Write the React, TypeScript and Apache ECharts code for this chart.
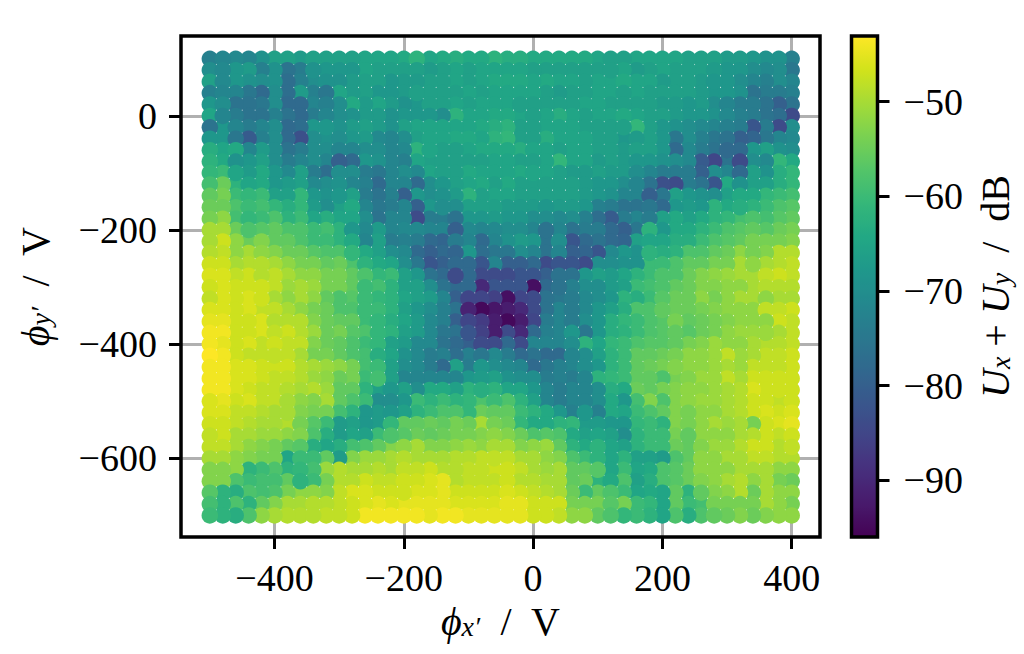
import React, { useEffect, useRef } from "react";
import * as echarts from "echarts";

const xValues = [-500,-480,-460,-440,-420,-400,-380,-360,-340,-320,-300,-280,-260,-240,-220,-200,-180,-160,-140,-120,-100,-80,-60,-40,-20,0,20,40,60,80,100,120,140,160,180,200,220,240,260,280,300,320,340,360,380,400];
const yValues = [100,80,60,40,20,0,-20,-40,-60,-80,-100,-120,-140,-160,-180,-200,-220,-240,-260,-280,-300,-320,-340,-360,-380,-400,-420,-440,-460,-480,-500,-520,-540,-560,-580,-600,-620,-640,-660,-680,-700];
const xTicks = [-400, -200, 0, 200, 400];
const yTicks = [-600, -400, -200, 0];
const barTicks = [-90, -80, -70, -60, -50];
const viridis = ["#440154","#481a6c","#472f7d","#414487","#39568c","#31688e","#2a788e","#23888e","#1f988b","#22a884","#35b779","#54c568","#7ad151","#a5db36","#d2e21b","#fde725"];

const levels: number[][] = [
[-73,-72,-71,-72,-69,-66,-66,-67,-66,-66,-66,-66,-65,-65,-65,-64,-62,-65,-64,-63,-64,-64,-62, -63,-63,-64,-64,-64,-64,-64,-65,-66,-66,-65,-65,-65,-65,-66,-66,-66,-67,-67,-68,-69,-69,-73],
[-70,-71,-68,-67,-73,-69,-76,-74,-69,-68,-68,-68,-65,-66,-66,-66,-66,-67,-66,-65,-66,-65,-65, -65,-65,-66,-66,-66,-66,-66,-66,-66,-65,-67,-66,-65,-66,-66,-66,-67,-68,-68,-70,-71,-70,-75],
[-66,-71,-68,-69,-70,-69,-77,-73,-70,-69,-69,-67,-66,-66,-68,-67,-67,-66,-66,-65,-66,-65,-64, -64,-64,-65,-64,-65,-65,-66,-65,-65,-64,-65,-65,-67,-66,-66,-67,-68,-68,-70,-72,-73,-70,-72],
[-73,-72,-72,-75,-78,-70,-77,-67,-73,-75,-65,-67,-66,-68,-68,-67,-66,-66,-66,-66,-65,-66,-65, -65,-65,-65,-66,-67,-66,-66,-65,-65,-66,-65,-66,-66,-66,-66,-67,-68,-68,-69,-76,-74,-74,-73],
[-68,-70,-76,-76,-75,-70,-78,-78,-72,-73,-70,-64,-67,-65,-67,-69,-68,-66,-66,-65,-66,-65,-65, -65,-66,-66,-66,-66,-66,-65,-65,-66,-66,-66,-66,-67,-67,-68,-67,-70,-72,-74,-74,-76,-80,-76],
[-65,-72,-74,-76,-76,-73,-76,-78,-74,-72,-70,-69,-67,-67,-69,-68,-68,-68,-70,-62,-65,-65,-64, -64,-65,-66,-65,-63,-65,-66,-65,-65,-64,-65,-66,-66,-67,-68,-68,-69,-71,-73,-74,-76,-77,-84],
[-76,-68,-72,-74,-72,-70,-78,-77,-68,-68,-69,-67,-66,-67,-69,-66,-65,-65,-65,-65,-65,-64,-63, -62,-66,-66,-65,-65,-65,-66,-66,-66,-66,-61,-66,-68,-69,-70,-71,-72,-73,-74,-82,-74,-84,-70],
[-68,-68,-75,-81,-73,-70,-78,-83,-70,-69,-70,-68,-67,-71,-72,-70,-66,-65,-65,-64,-64,-65,-62, -61,-66,-66,-63,-65,-65,-65,-66,-66,-68,-67,-66,-68,-75,-70,-73,-75,-76,-80,-79,-75,-72,-71],
[-63,-65,-64,-72,-67,-70,-76,-74,-70,-70,-72,-72,-70,-70,-72,-71,-62,-65,-66,-66,-65,-64,-64, -64,-63,-65,-65,-66,-65,-65,-66,-66,-67,-66,-66,-68,-78,-71,-74,-76,-78,-78,-68,-66,-69,-70],
[-62,-64,-69,-68,-66,-70,-74,-72,-70,-72,-80,-78,-68,-69,-72,-73,-65,-66,-66,-66,-66,-66,-65, -65,-66,-66,-65,-61,-65,-65,-67,-66,-67,-68,-68,-69,-70,-71,-81,-85,-76,-84,-70,-71,-61,-64],
[-61,-60,-65,-67,-64,-68,-71,-66,-74,-77,-70,-70,-74,-75,-72,-70,-71,-65,-66,-66,-64,-65,-65, -65,-64,-65,-65,-66,-67,-67,-66,-67,-67,-70,-72,-74,-74,-74,-80,-70,-72,-78,-66,-69,-63,-61],
[-59,-55,-62,-65,-64,-68,-67,-66,-71,-70,-69,-72,-73,-78,-72,-72,-78,-70,-68,-66,-65,-64,-66, -64,-66,-66,-66,-66,-66,-67,-68,-68,-70,-72,-76,-83,-84,-74,-76,-82,-64,-69,-66,-66,-63,-61],
[-56,-54,-60,-61,-60,-66,-66,-61,-68,-69,-68,-66,-74,-76,-73,-80,-68,-70,-69,-67,-62,-66,-65, -65,-66,-66,-66,-66,-66,-67,-68,-69,-72,-72,-80,-75,-66,-68,-69,-70,-66,-64,-64,-61,-60,-59],
[-55,-55,-58,-60,-59,-61,-63,-61,-67,-70,-66,-64,-72,-75,-74,-72,-80,-68,-70,-70,-66,-66,-66, -67,-67,-67,-68,-67,-67,-68,-73,-74,-76,-76,-75,-78,-68,-67,-68,-62,-64,-63,-62,-60,-58,-57],
[-54,-52,-59,-61,-60,-58,-62,-60,-65,-63,-65,-65,-70,-76,-72,-72,-84,-74,-74,-76,-68,-68,-67, -68,-68,-70,-70,-71,-70,-73,-77,-81,-74,-72,-74,-66,-64,-66,-64,-62,-61,-59,-58,-59,-57,-56],
[-50,-50,-55,-58,-57,-56,-58,-58,-60,-59,-62,-68,-71,-67,-72,-71,-71,-72,-72,-80,-71,-72,-71, -70,-70,-72,-76,-72,-76,-74,-74,-78,-80,-75,-62,-68,-64,-64,-62,-60,-58,-57,-56,-57,-55,-54],
[-50,-47,-52,-55,-53,-56,-56,-58,-60,-60,-62,-64,-72,-66,-74,-73,-74,-78,-79,-74,-72,-78,-72, -69,-67,-68,-76,-70,-82,-78,-76,-78,-79,-66,-65,-65,-63,-63,-60,-58,-57,-56,-54,-54,-54,-53],
[-49,-48,-52,-50,-52,-53,-55,-55,-57,-58,-58,-61,-64,-66,-70,-71,-78,-80,-78,-79,-68,-77,-75, -75,-70,-72,-76,-72,-80,-79,-82,-71,-68,-69,-62,-63,-62,-58,-58,-56,-55,-52,-54,-53,-49,-49],
[-47,-47,-50,-49,-49,-50,-52,-54,-54,-56,-55,-58,-62,-64,-65,-70,-75,-82,-80,-78,-78,-82,-72, -80,-80,-78,-84,-82,-82,-84,-70,-70,-69,-69,-60,-60,-58,-56,-56,-54,-54,-50,-52,-50,-49,-48],
[-46,-46,-48,-47,-49,-48,-50,-52,-52,-54,-54,-56,-58,-61,-60,-66,-68,-76,-78,-84,-78,-84,-84, -84,-82,-82,-80,-76,-76,-68,-66,-67,-65,-62,-60,-58,-58,-55,-53,-52,-51,-50,-50,-48,-47,-48],
[-47,-46,-47,-47,-47,-48,-51,-50,-51,-54,-54,-56,-60,-59,-62,-66,-66,-70,-76,-78,-78,-90,-82, -82,-82,-94,-78,-76,-73,-70,-70,-67,-66,-60,-59,-58,-56,-55,-53,-53,-52,-52,-50,-49,-49,-49],
[-48,-46,-47,-46,-47,-50,-52,-50,-52,-56,-58,-57,-60,-61,-62,-65,-66,-67,-72,-80,-85,-85,-86, -94,-85,-84,-76,-75,-74,-71,-70,-68,-62,-63,-60,-57,-55,-55,-52,-54,-52,-50,-50,-52,-50,-50],
[-46,-46,-47,-46,-48,-48,-50,-52,-54,-55,-58,-58,-60,-60,-62,-66,-68,-70,-73,-76,-91,-95,-93, -92,-90,-84,-76,-72,-74,-71,-68,-66,-63,-58,-58,-56,-55,-55,-54,-53,-52,-52,-52,-48,-48,-47],
[-45,-45,-47,-47,-46,-49,-49,-49,-53,-55,-56,-56,-60,-61,-63,-65,-67,-71,-73,-80,-85,-87,-92, -95,-92,-85,-74,-72,-74,-70,-68,-63,-61,-60,-58,-57,-54,-56,-55,-54,-53,-52,-52,-52,-47,-48],
[-44,-44,-47,-47,-46,-48,-47,-49,-51,-55,-54,-57,-58,-61,-62,-66,-67,-71,-75,-76,-82,-86,-92, -84,-90,-78,-73,-72,-68,-75,-68,-63,-62,-60,-58,-57,-56,-57,-55,-54,-52,-51,-51,-51,-50,-48],
[-44,-45,-47,-46,-48,-47,-48,-48,-53,-55,-56,-58,-60,-61,-66,-67,-71,-71,-76,-78,-80,-84,-84, -78,-84,-72,-72,-72,-70,-62,-65,-61,-60,-58,-57,-57,-56,-54,-53,-51,-52,-52,-50,-49,-49,-48],
[-43,-44,-47,-48,-48,-48,-48,-50,-54,-54,-56,-58,-59,-63,-65,-69,-71,-74,-73,-77,-73,-75,-71, -74,-78,-76,-78,-78,-72,-70,-66,-62,-60,-56,-56,-55,-54,-52,-52,-51,-48,-51,-50,-48,-48,-47],
[-44,-44,-46,-46,-47,-47,-47,-49,-50,-51,-52,-54,-59,-60,-66,-70,-71,-74,-78,-66,-74,-68,-70, -71,-72,-78,-75,-73,-72,-70,-68,-62,-60,-56,-55,-54,-53,-52,-52,-51,-50,-51,-48,-48,-48,-47],
[-44,-44,-46,-46,-47,-48,-48,-49,-51,-52,-55,-54,-60,-59,-66,-72,-72,-72,-72,-72,-68,-67,-66, -69,-70,-70,-74,-73,-74,-72,-62,-61,-60,-56,-56,-58,-54,-53,-51,-51,-48,-50,-47,-47,-47,-47],
[-44,-44,-46,-47,-48,-48,-49,-50,-49,-51,-56,-56,-62,-66,-68,-66,-70,-64,-64,-66,-62,-63,-62, -65,-65,-68,-72,-74,-72,-72,-70,-63,-64,-55,-56,-54,-53,-52,-52,-51,-50,-49,-46,-47,-47,-47],
[-46,-45,-47,-46,-48,-48,-50,-52,-53,-50,-56,-58,-60,-70,-70,-68,-60,-62,-60,-62,-61,-58,-60, -58,-62,-66,-72,-74,-72,-72,-70,-64,-68,-59,-53,-58,-53,-52,-51,-51,-50,-49,-47,-47,-48,-47],
[-46,-46,-48,-48,-49,-50,-50,-53,-54,-54,-59,-62,-68,-67,-68,-66,-62,-60,-58,-58,-61,-55,-56, -56,-60,-62,-64,-68,-73,-68,-73,-64,-65,-60,-58,-56,-53,-54,-52,-52,-50,-49,-47,-46,-47,-46],
[-47,-47,-48,-49,-50,-50,-49,-54,-57,-60,-67,-66,-68,-67,-61,-56,-56,-55,-56,-54,-55,-50,-54, -55,-61,-64,-64,-62,-61,-67,-67,-68,-68,-61,-60,-62,-53,-54,-52,-50,-51,-50,-54,-47,-46,-45],
[-48,-47,-50,-50,-51,-51,-52,-53,-58,-63,-67,-65,-66,-60,-58,-57,-55,-56,-55,-54,-54,-53,-52, -53,-55,-58,-57,-58,-64,-66,-65,-66,-70,-62,-60,-60,-54,-56,-52,-52,-52,-50,-49,-47,-48,-47],
[-48,-48,-50,-52,-53,-54,-56,-57,-63,-65,-63,-59,-58,-56,-53,-52,-50,-53,-53,-52,-51,-52,-50, -50,-53,-52,-51,-56,-62,-64,-62,-65,-66,-62,-60,-60,-55,-56,-53,-51,-51,-49,-47,-47,-49,-48],
[-50,-50,-52,-53,-54,-54,-65,-60,-60,-56,-67,-53,-51,-51,-50,-49,-50,-50,-50,-49,-49,-48,-48, -48,-50,-50,-52,-53,-58,-60,-62,-65,-62,-66,-66,-67,-58,-56,-52,-52,-50,-50,-48,-48,-49,-49],
[-53,-53,-52,-62,-60,-58,-62,-61,-59,-51,-49,-50,-50,-49,-50,-48,-48,-47,-49,-49,-48,-48,-47, -47,-48,-50,-51,-50,-56,-56,-57,-65,-60,-65,-64,-58,-57,-55,-52,-52,-52,-50,-50,-50,-52,-52],
[-53,-53,-58,-60,-59,-59,-56,-62,-60,-54,-49,-49,-47,-48,-48,-47,-47,-46,-45,-49,-48,-48,-48, -47,-49,-49,-50,-50,-56,-55,-62,-64,-58,-66,-63,-58,-57,-55,-53,-52,-50,-49,-52,-50,-54,-55],
[-57,-62,-63,-58,-59,-58,-54,-52,-52,-53,-48,-46,-46,-47,-47,-47,-46,-46,-45,-47,-47,-47,-47, -46,-47,-48,-49,-50,-55,-60,-56,-58,-60,-65,-64,-65,-56,-62,-56,-53,-52,-49,-55,-50,-52,-52],
[-59,-62,-58,-62,-56,-53,-50,-50,-49,-49,-48,-47,-46,-45,-46,-45,-45,-45,-45,-46,-46,-46,-46, -45,-45,-47,-47,-47,-54,-54,-54,-57,-54,-60,-61,-65,-56,-60,-59,-54,-54,-54,-54,-50,-52,-54],
[-60,-62,-63,-58,-52,-50,-49,-49,-49,-48,-48,-47,-44,-44,-44,-44,-44,-45,-44,-44,-45,-45,-45, -45,-45,-47,-47,-48,-52,-52,-56,-58,-61,-60,-62,-65,-58,-63,-58,-56,-55,-53,-55,-53,-52,-52],
];

const FONT = "'Liberation Serif', serif";
const tickText = (v: number) => String(v).replace("-", "\u2212");
const gridPoints = levels.flatMap((row, r) => row.map((level, c) => [xValues[c], yValues[r], level]));
// The dots of the reference overlap in a scattered scan order, not row by row.
const points = gridPoints.map((_, i) => gridPoints[(i * 739) % gridPoints.length]);

const nameRich = (size: number) => ({
  i: { fontFamily: FONT, fontStyle: "italic" as const, fontSize: size, color: "#000", lineHeight: 48, verticalAlign: "middle" as const },
  n: { fontFamily: FONT, fontSize: size, color: "#000", lineHeight: 48, verticalAlign: "middle" as const },
  s: { fontFamily: FONT, fontStyle: "italic" as const, fontSize: size * 0.7, color: "#000", lineHeight: 48, verticalAlign: "bottom" as const, padding: [0, 0, 5, 0] },
});

const axisLine = { show: false, onZero: false };
const tick = (len: number) => ({ show: true, length: len, lineStyle: { color: "#000", width: 3 } });
const frame = (x: number, y: number, width: number, height: number) => ({
  type: "rect", z: 100, silent: true, shape: { x, y, width, height },
  style: { fill: "none", stroke: "#000", lineWidth: 3.5 },
});

export default function App() {
  const ref = useRef<HTMLDivElement>(null);
  useEffect(() => {
    const chart = echarts.init(ref.current!, null, { renderer: "svg" });
    chart.setOption({
      animation: false,
      backgroundColor: "#fff",
      grid: [
        { left: 181, top: 36, width: 639, height: 501, show: false, containLabel: false, outerBoundsMode: "none" },
        { left: 851.5, top: 36, width: 26, height: 501, show: false, containLabel: false, outerBoundsMode: "none" },
      ],
      graphic: [frame(181, 36, 639, 501), frame(851.5, 36, 26, 501)],
      xAxis: [
        {
          type: "value", gridIndex: 0, min: -544.6, max: 443.8,
          axisLine,
          axisTick: { ...tick(12), customValues: xTicks },
          axisLabel: { customValues: xTicks, formatter: tickText, fontFamily: FONT, fontSize: 38, color: "#000", margin: 22 },
          splitLine: { show: true, lineStyle: { color: "#b0b0b0", width: 3 } },
          name: "{i|\u03D5}{s|x\u2032}{n|  /  V}", nameLocation: "middle", nameGap: 59,
          nameTextStyle: { rich: nameRich(40) },
        },
        { type: "value", gridIndex: 1, min: 0, max: 1, show: false },
      ],
      yAxis: [
        {
          type: "value", gridIndex: 0, min: -737.7, max: 140,
          axisLine,
          axisTick: { ...tick(12), customValues: yTicks },
          axisLabel: { customValues: yTicks, formatter: tickText, fontFamily: FONT, fontSize: 38, color: "#000", margin: 24 },
          splitLine: { show: true, lineStyle: { color: "#b0b0b0", width: 3 } },
          name: "{i|\u03D5}{s|y\u2032}{n|  /  V}", nameLocation: "middle", nameGap: 122, nameRotate: 90,
          nameTextStyle: { rich: nameRich(40) },
        },
        {
          type: "value", gridIndex: 1, position: "right", min: -96, max: -43.06,
          axisLine,
          axisTick: { ...tick(12), customValues: barTicks },
          axisLabel: { customValues: barTicks, formatter: tickText, fontFamily: FONT, fontSize: 38, color: "#000", margin: 26 },
          splitLine: { show: false },
          name: "{i|U}{s|x}{n| + }{i|U}{s|y}{n|  /  dB}", nameLocation: "middle", nameGap: 94, nameRotate: 90,
          nameTextStyle: { rich: nameRich(40) },
        },
      ],
      visualMap: {
        type: "continuous", show: true, seriesIndex: 0, dimension: 2,
        min: -96, max: -43.06, calculable: false, showLabel: false,
        left: 852, top: 36, itemWidth: 25, itemHeight: 501, padding: 0,
        inRange: { color: viridis },
      },
      series: [
        {
          type: "scatter", xAxisIndex: 0, yAxisIndex: 0, data: points, symbol: "circle", symbolSize: 16.5,
          itemStyle: { opacity: 1 }, silent: true, large: false,
        },
      ],
    });
    return () => chart.dispose();
  }, []);
  return <div ref={ref} style={{ position: "absolute", left: 0, top: 0, width: 1024, height: 654 }} />;
}
